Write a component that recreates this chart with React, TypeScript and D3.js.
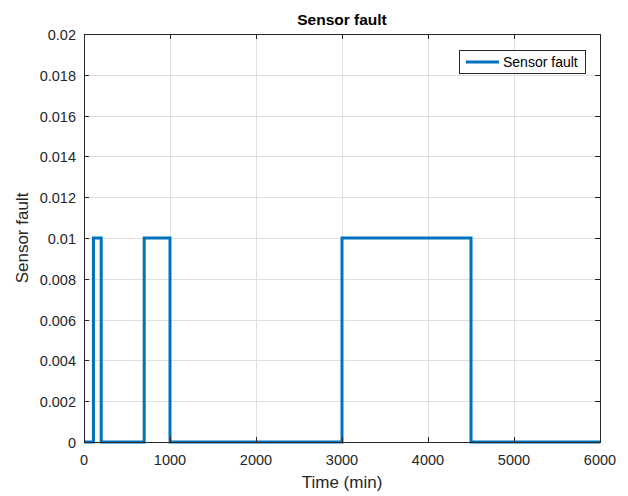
import React from 'react';
import * as d3 from 'd3';

// step signal: time (min) and fault level
const times = [0, 110, 110, 200, 200, 700, 700, 1000, 1000, 3000, 3000, 4500, 4500, 6000];
const values = [0, 0, 0.01, 0.01, 0, 0, 0.01, 0.01, 0, 0, 0.01, 0.01, 0, 0];
const xTicks = [0, 1000, 2000, 3000, 4000, 5000, 6000];
const yTicks = [0, 0.002, 0.004, 0.006, 0.008, 0.01, 0.012, 0.014, 0.016, 0.018, 0.02];
const seriesName = 'Sensor fault';

export default function App() {
  const width = 628;
  const height = 496;
  const left = 84, right = 600, top = 34, bottom = 442;
  const font = "'Liberation Sans', Arial, Helvetica, sans-serif";
  const axisColor = '#262626';

  const x = d3.scaleLinear().domain([0, 6000]).range([left, right]);
  const y = d3.scaleLinear().domain([0, 0.02]).range([bottom, top]);

  const pts = times.map((t, i) => [t, values[i]] as [number, number]);
  const line = d3.line<[number, number]>().x(d => x(d[0])).y(d => y(d[1]));

  return (
    <svg width={width} height={height} style={{ position: 'absolute', left: 0, top: 0 }}>
      <rect x={0} y={0} width={width} height={height} fill='#ffffff' />

      {/* grid */}
      <g stroke='#dfdfdf' strokeWidth={1}>
        {xTicks.map(t => (
          <line key={'gx' + t} x1={x(t) + 0.5} x2={x(t) + 0.5} y1={top} y2={bottom} />
        ))}
        {yTicks.map(t => (
          <line key={'gy' + t} x1={left} x2={right} y1={Math.round(y(t)) + 0.5} y2={Math.round(y(t)) + 0.5} />
        ))}
      </g>

      {/* data */}
      <path d={line(pts) || ''} fill='none' stroke='#0072BD' strokeWidth={3} strokeLinejoin='miter' />

      {/* box */}
      <rect x={left + 0.5} y={top + 0.5} width={right - left} height={bottom - top} fill='none' stroke={axisColor} strokeWidth={1} />

      {/* ticks */}
      <g stroke={axisColor} strokeWidth={1}>
        {xTicks.map(t => (
          <g key={'tx' + t}>
            <line x1={x(t) + 0.5} x2={x(t) + 0.5} y1={bottom} y2={bottom - 5} />
            <line x1={x(t) + 0.5} x2={x(t) + 0.5} y1={top} y2={top + 5} />
          </g>
        ))}
        {yTicks.map(t => (
          <g key={'ty' + t}>
            <line x1={left} x2={left + 5} y1={Math.round(y(t)) + 0.5} y2={Math.round(y(t)) + 0.5} />
            <line x1={right} x2={right - 5} y1={Math.round(y(t)) + 0.5} y2={Math.round(y(t)) + 0.5} />
          </g>
        ))}
      </g>

      {/* tick labels */}
      <g fontFamily={font} fontSize={14.5} fill={axisColor}>
        {xTicks.map(t => (
          <text key={'lx' + t} x={x(t)} y={bottom + 23} textAnchor='middle'>{t}</text>
        ))}
        {yTicks.map(t => (
          <text key={'ly' + t} x={left - 8} y={y(t) + 6} textAnchor='end'>{t === 0 ? '0' : String(+t.toFixed(3))}</text>
        ))}
      </g>

      {/* labels */}
      <text x={(left + right) / 2} y={25} textAnchor='middle' fontFamily={font} fontSize={15.5} fontWeight='bold' fill='#000'>Sensor fault</text>
      <text x={(left + right) / 2} y={488} textAnchor='middle' fontFamily={font} fontSize={17} fill={axisColor}>Time (min)</text>
      <text transform={`translate(28,${(top + bottom) / 2}) rotate(-90)`} textAnchor='middle' fontFamily={font} fontSize={17} fill={axisColor}>Sensor fault</text>

      {/* legend */}
      <g>
        <rect x={459.5} y={50.5} width={126} height={23} fill='#ffffff' stroke={axisColor} strokeWidth={1} />
        <line x1={466} x2={499} y1={62} y2={62} stroke='#0072BD' strokeWidth={3} />
        <text x={503} y={67} fontFamily={font} fontSize={14} fill='#000'>{seriesName}</text>
      </g>
    </svg>
  );
}
